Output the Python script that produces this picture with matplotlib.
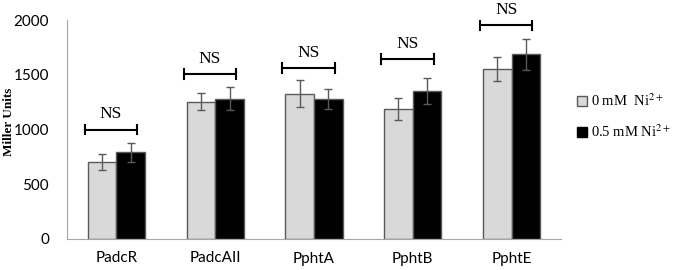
import numpy as np
import matplotlib.pyplot as plt
from matplotlib.lines import Line2D

plt.rcParams['mathtext.fontset'] = 'stix'

promoters = ['PadcR', 'PadcAII', 'PphtA', 'PphtB', 'PphtE']
ni_0 = [705, 1255, 1327, 1187, 1555]
ni_0_err = [72, 77, 125, 103, 110]
ni_05 = [792, 1281, 1276, 1354, 1687]
ni_05_err = [88, 107, 90, 119, 142]
ns_level = [1000, 1505, 1562, 1644, 1954]

fig = plt.figure(figsize=(6.79, 2.70), dpi=100)
ax = fig.add_axes([67/679, 31/270, (561-67)/679, (239-20)/270])

x = np.arange(len(promoters))
w = 0.29
ax.bar(x - w/2, ni_0, w, color='#d9d9d9', edgecolor='#595959', linewidth=1)
ax.bar(x + w/2, ni_05, w, color='black', edgecolor='#595959', linewidth=1)
ax.errorbar(x - w/2, ni_0, yerr=ni_0_err, fmt='none', ecolor='#595959', elinewidth=1, capsize=3)
ax.errorbar(x + w/2, ni_05, yerr=ni_05_err, fmt='none', ecolor='#595959', elinewidth=1, capsize=3)

# NS brackets
for xi, lvl in zip(x, ns_level):
    x0, x1 = xi - 0.32, xi + 0.21
    ax.plot([x0, x1], [lvl, lvl], color='black', lw=1.5)
    ax.plot([x0, x0], [lvl - 45, lvl + 45], color='black', lw=1.5)
    ax.plot([x1, x1], [lvl - 45, lvl + 45], color='black', lw=1.5)
    ax.text((x0 + x1) / 2, lvl + 65, 'NS', ha='center', va='bottom',
            family='Liberation Serif', fontsize=12.5)

ax.set_xlim(-0.5, len(promoters) - 0.5)
ax.set_ylim(0, 2000)
ax.set_yticks([0, 500, 1000, 1500, 2000])
ax.set_xticks(x)
ax.set_xticklabels(promoters)
ax.tick_params(length=0, labelsize=11)
for lab in ax.get_xticklabels() + ax.get_yticklabels():
    lab.set_family('Lato')
ax.tick_params(axis='x', pad=9)
ax.tick_params(axis='y', pad=13)
for s in ['top', 'right']:
    ax.spines[s].set_visible(False)
for s in ['left', 'bottom']:
    ax.spines[s].set_color('#a6a6a6')
fig.text(9/679, 1 - 122/270, 'Miller Units', rotation=90, ha='center', va='center',
         family='Liberation Serif', fontweight='bold', fontsize=9.5)

handles = [Line2D([], [], marker='s', ls='none', markersize=7, markerfacecolor='#d9d9d9', markeredgecolor='#595959'),
           Line2D([], [], marker='s', ls='none', markersize=7, markerfacecolor='black', markeredgecolor='black')]
fig.legend(handles, ['0 mM  Ni$^{2+}$', '0.5 mM Ni$^{2+}$'], loc='center left',
           bbox_to_anchor=(562/679, 1 - 116/270), frameon=False, handletextpad=0.1,
           labelspacing=1.0, prop={'family': 'Liberation Serif', 'size': 10.5}, handlelength=1)

fig.savefig('out.png', dpi=100)
